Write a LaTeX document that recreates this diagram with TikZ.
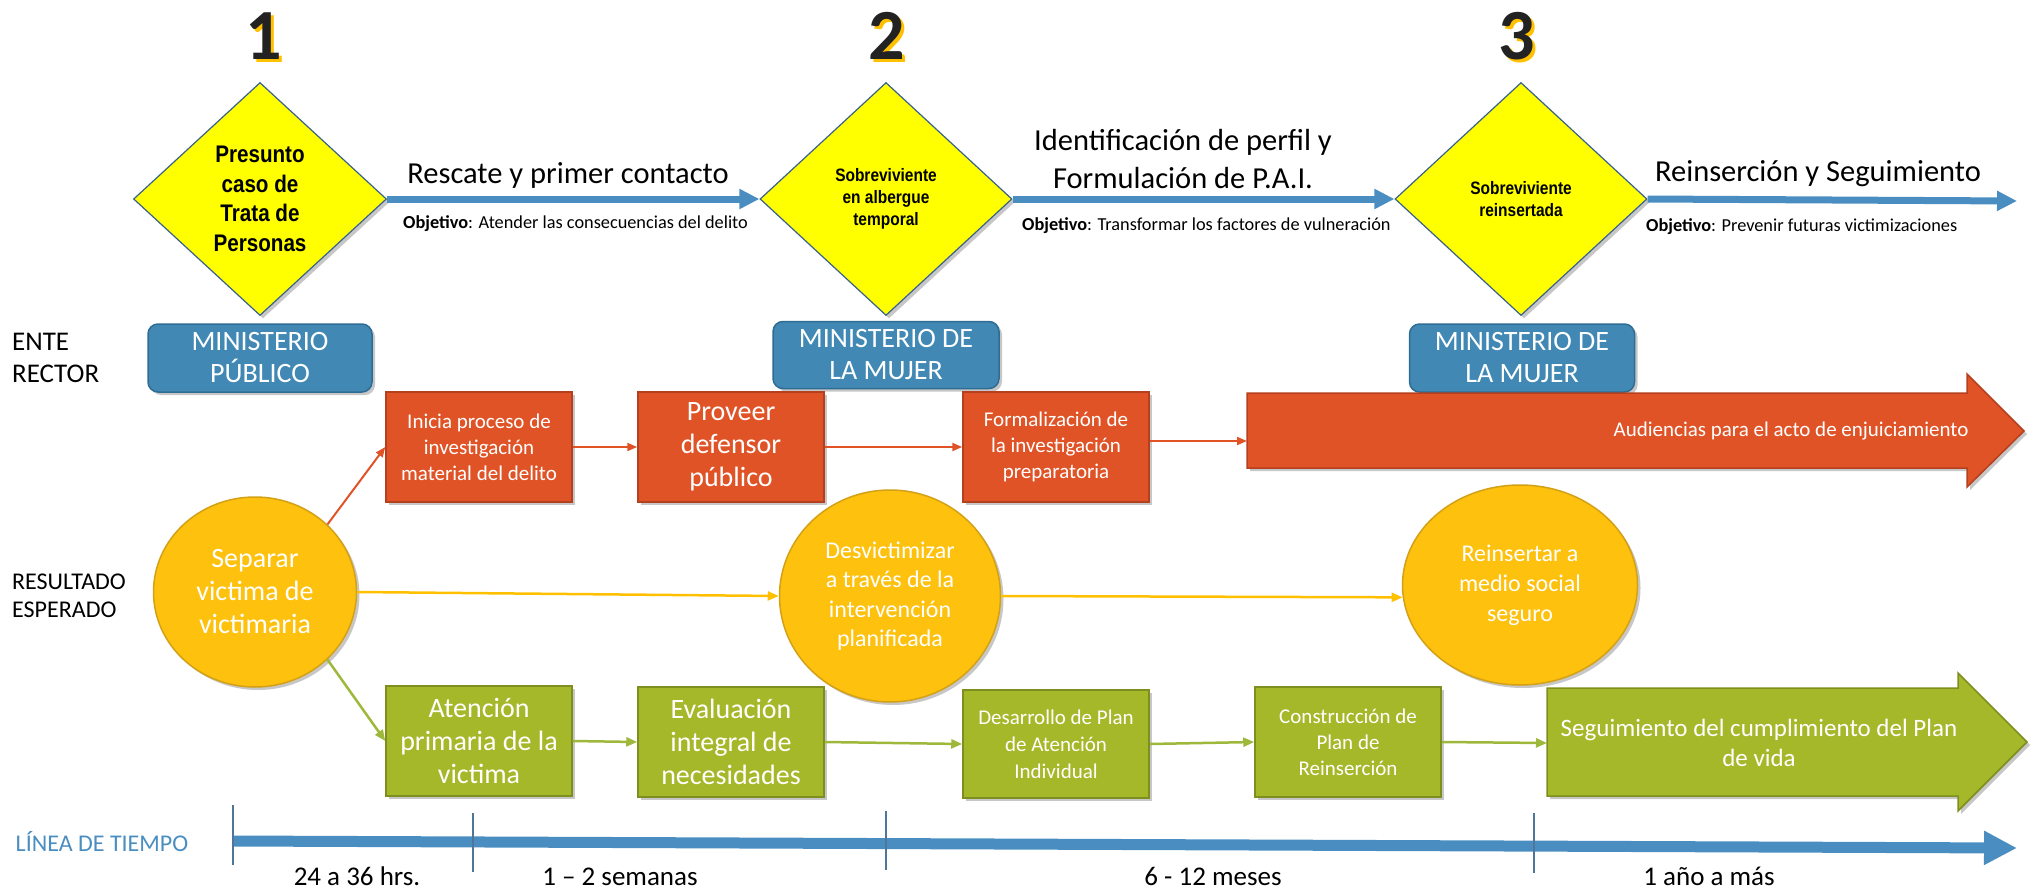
\documentclass[tikz,border=0pt]{standalone}
\usepackage{fontspec}
\setmainfont{Carlito}
\newfontfamily\narrowfam[FakeStretch=0.86]{Liberation Sans}
\usetikzlibrary{shapes.geometric,arrows.meta,calc,shadows}
\definecolor{diayel}{HTML}{FFFF00}
\definecolor{diaedge}{HTML}{3A6189}
\definecolor{flowblue}{HTML}{4A8DC0}
\definecolor{boxblue}{HTML}{4189B4}
\definecolor{boxblueedge}{HTML}{2F6C93}
\definecolor{redfill}{HTML}{E05327}
\definecolor{rededge}{HTML}{B5401E}
\definecolor{circfill}{HTML}{FDC10E}
\definecolor{circedge}{HTML}{D4A116}
\definecolor{greenfill}{HTML}{A5B82A}
\definecolor{greenedge}{HTML}{7E8E1F}
\definecolor{yline}{HTML}{FFC000}
\definecolor{gline}{HTML}{9DB83A}
\definecolor{numdark}{HTML}{222222}
\definecolor{numshadow}{HTML}{FFC000}
\definecolor{tickcol}{HTML}{4F7598}
\begin{document}
\begin{tikzpicture}[x=1pt,y=-1pt,
  every node/.style={inner sep=0pt},
  softshadow/.style={drop shadow={shadow xshift=3pt,shadow yshift=-3pt,opacity=0.22,fill=black}},
  numstyle/.style={font=\fontsize{72}{72}\selectfont\bfseries},
  diam/.style={shape=diamond, draw=diaedge, line width=1.2pt, fill=diayel, minimum width=253pt, minimum height=233pt, align=center, softshadow},
  rector/.style={rounded corners=10pt, draw=boxblueedge, line width=1.5pt, fill=boxblue, text=white, minimum width=225pt, minimum height=68pt, align=center, font=\fontsize{28}{32}\selectfont, softshadow},
  redbox/.style={draw=rededge, line width=1.5pt, fill=redfill, text=white, minimum width=186pt, minimum height=110pt, align=center, softshadow},
  greenbox/.style={draw=greenedge, line width=1.5pt, fill=greenfill, text=white, minimum width=186pt, minimum height=110pt, align=center, softshadow},
  result/.style={ellipse, draw=circedge, line width=1.5pt, fill=circfill, text=white, align=center, softshadow},
  flow/.style={draw=flowblue, line width=7pt, -{Triangle[width=19pt,length=20pt]}},
  redcon/.style={draw=redfill, line width=2pt, -{Triangle[width=8pt,length=10pt]}},
  yelcon/.style={draw=yline, line width=2.5pt, -{Triangle[width=9pt,length=11pt]}},
  grncon/.style={draw=gline, line width=2.5pt, -{Triangle[width=9pt,length=11pt]}},
  titletext/.style={font=\fontsize{30.5}{38}\selectfont, align=center},
  objtext/.style={font=\fontsize{18.3}{22}\selectfont, anchor=base west},
  sidelabel/.style={anchor=west, align=left},
  timelabel/.style={font=\fontsize{27}{30}\selectfont, anchor=base},
  tick/.style={draw=tickcol, line width=1.2pt}
]
\useasboundingbox (0,0) rectangle (2033,894);

% phase numbers
\node[numstyle, text=numshadow] (n1s) at (267,39) {1};
\node[numstyle, text=numdark] (n1) at (264,36) {1};
\node[numstyle, text=numshadow] (n2s) at (890,39) {2};
\node[numstyle, text=numdark] (n2) at (887,36) {2};
\node[numstyle, text=numshadow] (n3s) at (1520,39) {3};
\node[numstyle, text=numdark] (n3) at (1517,36) {3};

% diamonds
\node[diam, font=\narrowfam\bfseries\fontsize{24}{29.5}\selectfont] (d1) at (260,199) {Presunto\\caso de\\Trata de\\Personas};
\node[diam, minimum width=252pt, font=\narrowfam\bfseries\fontsize{18}{22}\selectfont] (d2) at (886,199) {Sobreviviente\\en albergue\\temporal};
\node[diam, minimum width=252pt, font=\narrowfam\bfseries\fontsize{18}{22}\selectfont] (d3) at (1521,199) {Sobreviviente\\reinsertada};
\coordinate (endflow) at (2017,201);

\draw[flow] (d1.east) -- (d2.west);
\draw[flow] (d2.east) -- (d3.west);
\draw[flow] (d3.east) -- (endflow);

% phase titles
\node[titletext, anchor=base] (t1) at (568,183) {Rescate y primer contacto};
\node[titletext] (t2) at (1183,159) {Identificación de perfil y\\Formulación de P.A.I.};
\node[titletext, anchor=base] (t3) at (1818,181) {Reinserción y Seguimiento};
\node[objtext] (o1) at (403,228) {\textbf{Objetivo}: Atender las consecuencias del delito};
\node[objtext] (o2) at (1022,230) {\textbf{Objetivo}: Transformar los factores de vulneración};
\node[objtext] (o3) at (1646,231) {\textbf{Objetivo}: Prevenir futuras victimizaciones};

% ente rector
\node[sidelabel, font=\fontsize{27}{32}\selectfont] (ente) at (12,358) {ENTE\\RECTOR};
\node[rector, minimum width=224pt] (mp1) at (260,358) {MINISTERIO\\PÚBLICO};
\node[rector, minimum width=226pt, minimum height=67pt] (mp2) at (886,355) {MINISTERIO DE\\LA MUJER};
\node[rector] (mp3) at (1522,358) {MINISTERIO DE\\LA MUJER};

% red (judicial) row
\node[redbox, font=\fontsize{21}{26}\selectfont] (r1) at (479,447) {Inicia proceso de\\investigación\\material del delito};
\node[redbox, font=\fontsize{28}{33}\selectfont] (r2) at (731,447) {Proveer\\defensor\\público};
\node[redbox, font=\fontsize{21}{26}\selectfont] (r3) at (1056,447) {Formalización de\\la investigación\\preparatoria};
\draw[draw=rededge, line width=1.5pt, fill=redfill, softshadow] (1247,393) -- (1967,393) -- (1967,374) -- (2024,431) -- (1967,487) -- (1967,468) -- (1247,468) -- cycle;
\coordinate (redarrow) at (1247,441);
\node[text=white, font=\fontsize{21}{26}\selectfont] (raudi) at (1791,431) {Audiencias para el acto de enjuiciamiento};

% expected results
\node[sidelabel, font=\fontsize{24}{28}\selectfont] (resul) at (12,596) {RESULTADO\\ESPERADO};
\node[result, minimum width=203pt, minimum height=190pt, font=\fontsize{28}{33}\selectfont] (c1) at (255,592) {Separar\\victima de\\victimaria};
\node[result, minimum width=221pt, minimum height=212pt, font=\fontsize{24}{29.5}\selectfont] (c2) at (890,596) {Desvictimizar\\a través de la\\intervención\\planificada};
\node[result, minimum width=235pt, minimum height=200pt, font=\fontsize{24}{30}\selectfont] (c3) at (1520,585) {Reinsertar a\\medio social\\seguro};

% green (care) row
\node[greenbox, font=\fontsize{28}{33}\selectfont] (g1) at (479,741) {Atención\\primaria de la\\victima};
\node[greenbox, font=\fontsize{28}{33}\selectfont] (g2) at (731,742) {Evaluación\\integral de\\necesidades};
\node[greenbox, minimum height=108pt, font=\fontsize{21}{27}\selectfont] (g3) at (1056,744) {Desarrollo de Plan\\de Atención\\Individual};
\node[greenbox, font=\fontsize{21}{26}\selectfont] (g4) at (1348,742) {Construcción de\\Plan de\\Reinserción};
\draw[draw=greenedge, line width=1.5pt, fill=greenfill, softshadow] (1547,688) -- (1958,688) -- (1958,673) -- (2027,742) -- (1958,811) -- (1958,796) -- (1547,796) -- cycle;
\coordinate (greenarrow) at (1547,743);
\node[text=white, align=center, font=\fontsize{25}{30}\selectfont] (gseg) at (1759,743) {Seguimiento del cumplimiento del Plan\\de vida};

% connectors
\draw[redcon] (c1.43) -- (r1.west);
\draw[redcon] (r1.east) -- (r2.west);
\draw[redcon] (r2.east) -- (r3.west);
\draw[redcon] (r3.east |- redarrow) -- (redarrow);
\draw[yelcon] (c1.east) -- (c2.west);
\draw[yelcon] (c2.east) -- (c3.186);
\draw[grncon] (c1.-43) -- (g1.west);
\draw[grncon] (g1.east) -- (g2.west);
\draw[grncon] (g2.east) -- (g3.west);
\draw[grncon] (g3.east) -- (g4.west);
\draw[grncon] (g4.east) -- (greenarrow);

% timeline
\node[text=flowblue, font=\fontsize{24}{28}\selectfont] (tltext) at (102,842) {LÍNEA DE TIEMPO};
\coordinate (tl0) at (233,841);
\coordinate (tl1) at (2017,848);
\coordinate (k1a) at (233,805); \coordinate (k1b) at (233,865);
\coordinate (k2a) at (473,813); \coordinate (k2b) at (473,872);
\coordinate (k3a) at (886,811); \coordinate (k3b) at (886,870);
\coordinate (k4a) at (1534,813); \coordinate (k4b) at (1534,873);
\draw[draw=flowblue, line width=11pt, -{Triangle[width=32pt,length=33pt]}] (tl0) -- (tl1);
\draw[tick] (k1a) -- (k1b);
\draw[tick] (k2a) -- (k2b);
\draw[tick] (k3a) -- (k3b);
\draw[tick] (k4a) -- (k4b);
\node[timelabel] (p1) at (357,885) {24 a 36 hrs.};
\node[timelabel] (p2) at (620,885) {1 – 2 semanas};
\node[timelabel] (p3) at (1213,885) {6 - 12 meses};
\node[timelabel] (p4) at (1709,885) {1 año a más};
\end{tikzpicture}
\end{document}
